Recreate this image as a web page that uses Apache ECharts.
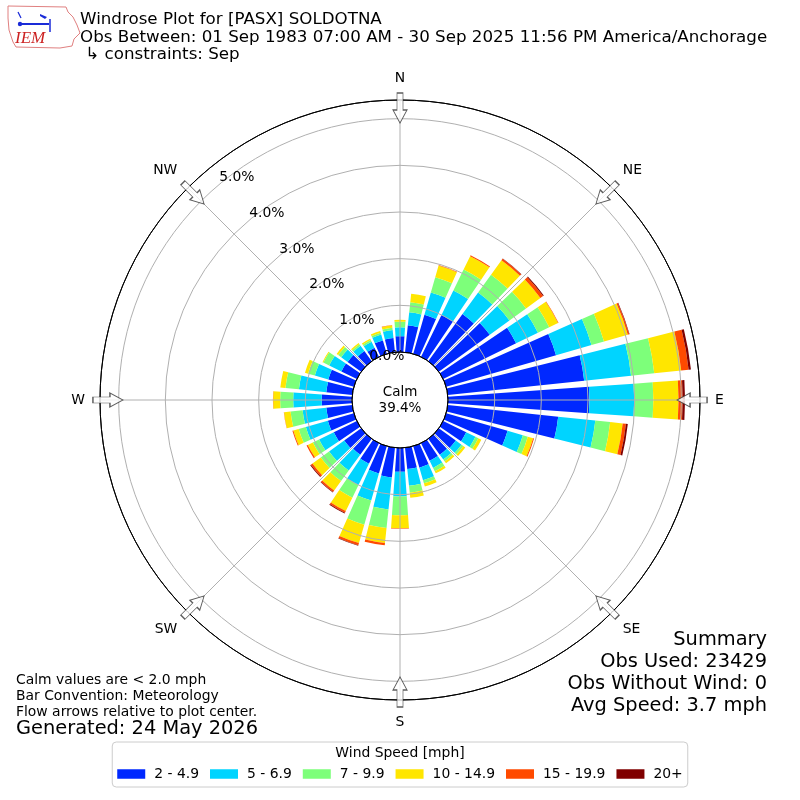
<!DOCTYPE html>
<html><head><meta charset="utf-8">
<script src="https://cdn.jsdelivr.net/npm/echarts@6/dist/echarts.min.js"></script>
<style>html,body{margin:0;padding:0;background:#fff}#c{width:800px;height:800px}</style>
</head><body><div id="c"></div>
<script>
// Direction bins (degrees, meteorological)
const directions = ['0','10','20','30','40','50','60','70','80','90','100','110','120','130','140','150','160','170',
  '180','190','200','210','220','230','240','250','260','270','280','290','300','310','320','330','340','350'];
const speedBins = ['2 - 4.9','5 - 6.9','7 - 9.9','10 - 14.9','15 - 19.9','20+'];
const binColors = ['#0028ff','#00d4ff','#7dff7a','#ffe600','#ff4a00','#800000'];
// Percent frequency per direction, one array per speed bin
const bin2to5   = [0.34,0.58,0.87,1.00,1.25,1.35,1.74,2.45,2.94,3.03,2.38,1.37,0.55,0.45,0.42,0.42,0.48,0.46,
                   0.51,0.64,0.61,0.49,0.42,0.45,0.55,0.58,0.56,0.65,0.56,0.57,0.37,0.36,0.27,0.22,0.30,0.31];
const bin5to7   = [0.19,0.28,0.50,0.58,0.57,0.52,0.52,0.79,1.01,0.96,0.80,0.34,0.22,0.15,0.13,0.17,0.28,0.36,
                   0.53,0.69,0.60,0.51,0.42,0.40,0.35,0.49,0.51,0.61,0.59,0.30,0.29,0.17,0.14,0.14,0.13,0.17];
const bin7to10  = [0.12,0.22,0.34,0.50,0.47,0.44,0.27,0.28,0.50,0.41,0.32,0.11,0.07,0.05,0.05,0.08,0.07,0.15,
                   0.40,0.40,0.54,0.30,0.28,0.22,0.15,0.16,0.26,0.28,0.29,0.15,0.14,0.08,0.04,0.04,0.04,0.05];
const bin10to15 = [0.04,0.18,0.26,0.32,0.38,0.38,0.21,0.53,0.58,0.54,0.27,0.12,0.07,0.05,0.05,0.05,0.07,0.11,
                   0.28,0.32,0.41,0.32,0.25,0.22,0.12,0.12,0.14,0.15,0.11,0.07,0.02,0.04,0.03,0.03,0.04,0.05];
const bin15to20 = [0.00,0.00,0.01,0.02,0.04,0.07,0.01,0.03,0.16,0.09,0.07,0.02,0.00,0.00,0.00,0.00,0.00,0.00,
                   0.01,0.05,0.05,0.04,0.04,0.04,0.03,0.02,0.005,0.005,0.00,0.00,0.00,0.00,0.00,0.00,0.00,0.01];
const bin20plus = [0.00,0.00,0.00,0.00,0.01,0.02,0.00,0.01,0.05,0.05,0.04,0.00,0.00,0.00,0.00,0.00,0.00,0.00,
                   0.00,0.00,0.01,0.02,0.01,0.02,0.00,0.00,0.00,0.00,0.00,0.00,0.00,0.00,0.00,0.00,0.00,0.00];
const binData = [bin2to5, bin5to7, bin7to10, bin10to15, bin15to20, bin20plus];

const compassLabels = ['N','NE','E','SE','S','SW','W','NW'];
const compassAngles = [0,45,90,135,180,225,270,315];
const radialMax = 5.4;
const radialInterval = 1;
const calmText = 'Calm\n39.4%';

const FF = '"DejaVu Sans", sans-serif';
const chart = echarts.init(document.getElementById('c'), null, {renderer:'canvas'});

const series = binData.map((d, i) => ({
  type: 'bar', coordinateSystem: 'polar', polarIndex: 0, stack: 'ws',
  name: speedBins[i], data: d, itemStyle: {color: binColors[i]},
  barCategoryGap: '20%', z: 2, silent: true
}));
series.push({
  type: 'scatter', coordinateSystem: 'polar', polarIndex: 1, z: 10, silent: true,
  symbol: 'path://M4,0 L10,0 L10,17 L14,17 L7,30 L0,17 L4,17 Z',
  symbolSize: [14, 30],
  itemStyle: {color: '#ffffff', borderColor: '#333333', borderWidth: 1},
  data: compassAngles.map(a => ({value: [5.23, a], symbolRotate: -a}))
});

const option = {
  animation: false,
  backgroundColor: '#ffffff',
  polar: [
    {center: [400, 400], radius: [48, 300]},
    {center: [400, 400], radius: [48, 300]},
    {center: [400, 400], radius: [48, 300]}
  ],
  angleAxis: [
    {polarIndex: 0, type: 'category', data: directions, startAngle: 95, clockwise: true,
     axisLine: {show: false}, axisTick: {show: false}, axisLabel: {show: false}, splitLine: {show: false}},
    {polarIndex: 1, type: 'value', min: 0, max: 360, interval: 45, startAngle: 90, clockwise: true, z: 5,
     axisLine: {show: true, lineStyle: {color: '#000000', width: 1}},
     axisTick: {show: false},
     axisLabel: {margin: 15, fontSize: 13.9, fontFamily: FF, color: '#000',
       formatter: v => { const k = compassAngles.indexOf(v); return k >= 0 && v < 360 ? compassLabels[k] : ''; }},
     splitLine: {show: true, lineStyle: {color: '#b0b0b0', width: 1}}},
    {polarIndex: 2, type: 'value', min: 0, max: 360, startAngle: 130, show: false}
  ],
  radiusAxis: [
    {polarIndex: 0, type: 'value', min: 0, max: radialMax, show: false},
    {polarIndex: 1, type: 'value', min: 0, max: radialMax, interval: radialInterval, z: 5,
     axisLine: {show: false}, axisTick: {show: false}, axisLabel: {show: false},
     splitLine: {show: true, lineStyle: {color: ['#000000','#b0b0b0','#b0b0b0','#b0b0b0','#b0b0b0','#b0b0b0','#000000'], width: 1}}},
    {polarIndex: 2, type: 'value', min: 0, max: radialMax, interval: radialInterval, z: 6,
     axisLine: {show: false}, axisTick: {show: false}, splitLine: {show: false},
     axisLabel: {margin: 0, align: 'left', verticalAlign: 'bottom', fontSize: 13.9, fontFamily: FF, color: '#000',
       formatter: v => (Math.abs(v - Math.round(v)) < 1e-9 ? v.toFixed(1) + '%' : '')}}
  ],
  legend: {
    data: speedBins, left: 'center', top: 742, orient: 'horizontal', icon: 'rect',
    itemWidth: 28, itemHeight: 9.5, itemGap: 11,
    padding: [25, 5, 6, 5], borderColor: '#cccccc', borderWidth: 1, borderRadius: 4,
    textStyle: {fontSize: 13.9, fontFamily: FF, color: '#000', padding: [0, 0, 0, 4]},
    selectedMode: false
  },
  graphic: [
    {type: 'text', x: 400, y: 753, z: 20, style: {text: 'Wind Speed [mph]', fontSize: 13.9, fontFamily: FF, fill: '#000', align: 'center', verticalAlign: 'middle'}},
    {type: 'text', x: 400, y: 400, z: 20, style: {text: calmText, fontSize: 13.5, lineHeight: 16, fontFamily: FF, fill: '#000', align: 'center', verticalAlign: 'middle'}},
    {type: 'text', x: 80, y: 20, style: {text: 'Windrose Plot for [PASX] SOLDOTNA', fontSize: 16.7, fontFamily: FF, fill: '#000', verticalAlign: 'middle'}},
    {type: 'text', x: 80, y: 37.5, style: {text: 'Obs Between: 01 Sep 1983 07:00 AM - 30 Sep 2025 11:56 PM America/Anchorage', fontSize: 16.7, fontFamily: FF, fill: '#000', verticalAlign: 'middle'}},
    {type: 'text', x: 80, y: 55, style: {text: ' \u21b3 constraints: Sep', fontSize: 16.7, fontFamily: FF, fill: '#000', verticalAlign: 'middle'}},
    {type: 'text', x: 16, y: 680, style: {text: 'Calm values are < 2.0 mph', fontSize: 13.9, fontFamily: FF, fill: '#000', verticalAlign: 'middle'}},
    {type: 'text', x: 16, y: 696, style: {text: 'Bar Convention: Meteorology', fontSize: 13.9, fontFamily: FF, fill: '#000', verticalAlign: 'middle'}},
    {type: 'text', x: 16, y: 712, style: {text: 'Flow arrows relative to plot center.', fontSize: 13.9, fontFamily: FF, fill: '#000', verticalAlign: 'middle'}},
    {type: 'text', x: 16, y: 729, style: {text: 'Generated: 24 May 2026', fontSize: 19.4, fontFamily: FF, fill: '#000', verticalAlign: 'middle'}},
    {type: 'text', x: 767, y: 640, style: {text: 'Summary', fontSize: 19.4, fontFamily: FF, fill: '#000', align: 'right', verticalAlign: 'middle'}},
    {type: 'text', x: 767, y: 662, style: {text: 'Obs Used: 23429', fontSize: 19.4, fontFamily: FF, fill: '#000', align: 'right', verticalAlign: 'middle'}},
    {type: 'text', x: 767, y: 684, style: {text: 'Obs Without Wind: 0', fontSize: 19.4, fontFamily: FF, fill: '#000', align: 'right', verticalAlign: 'middle'}},
    {type: 'text', x: 767, y: 706, style: {text: 'Avg Speed: 3.7 mph', fontSize: 19.4, fontFamily: FF, fill: '#000', align: 'right', verticalAlign: 'middle'}},
    // IEM logo (approximation)
    {type: 'group', x: 0, y: 0, children: [
      {type: 'polyline', shape: {points: [[8,6],[66,7],[68,12],[73,17],[77,25],[80,33],[74,39],[72,46],[60,48],[16,47],[13,42],[9,30],[8,18],[8,6]]},
       style: {stroke: '#e08080', lineWidth: 1, fill: null}},
      {type: 'line', shape: {x1: 21, y1: 24, x2: 49, y2: 24}, style: {stroke: '#1a2bd8', lineWidth: 2}},
      {type: 'line', shape: {x1: 18, y1: 12, x2: 21, y2: 18}, style: {stroke: '#1a2bd8', lineWidth: 1.2}},
      {type: 'circle', shape: {cx: 20, cy: 24, r: 2.2}, style: {fill: '#1a2bd8'}},
      {type: 'polygon', shape: {points: [[40,14],[47,17],[45,19],[40,16]]}, style: {fill: '#1a2bd8'}},
      {type: 'line', shape: {x1: 50, y1: 19, x2: 50, y2: 32}, style: {stroke: '#1a2bd8', lineWidth: 1.5}},
      {type: 'text', x: 15, y: 39, style: {text: 'IEM', fontSize: 17, fontStyle: 'italic', fontFamily: '"Liberation Serif", serif', fill: '#cc2222', verticalAlign: 'middle'}}
    ]}
  ],
  series: series
};
chart.setOption(option);
</script></body></html>
